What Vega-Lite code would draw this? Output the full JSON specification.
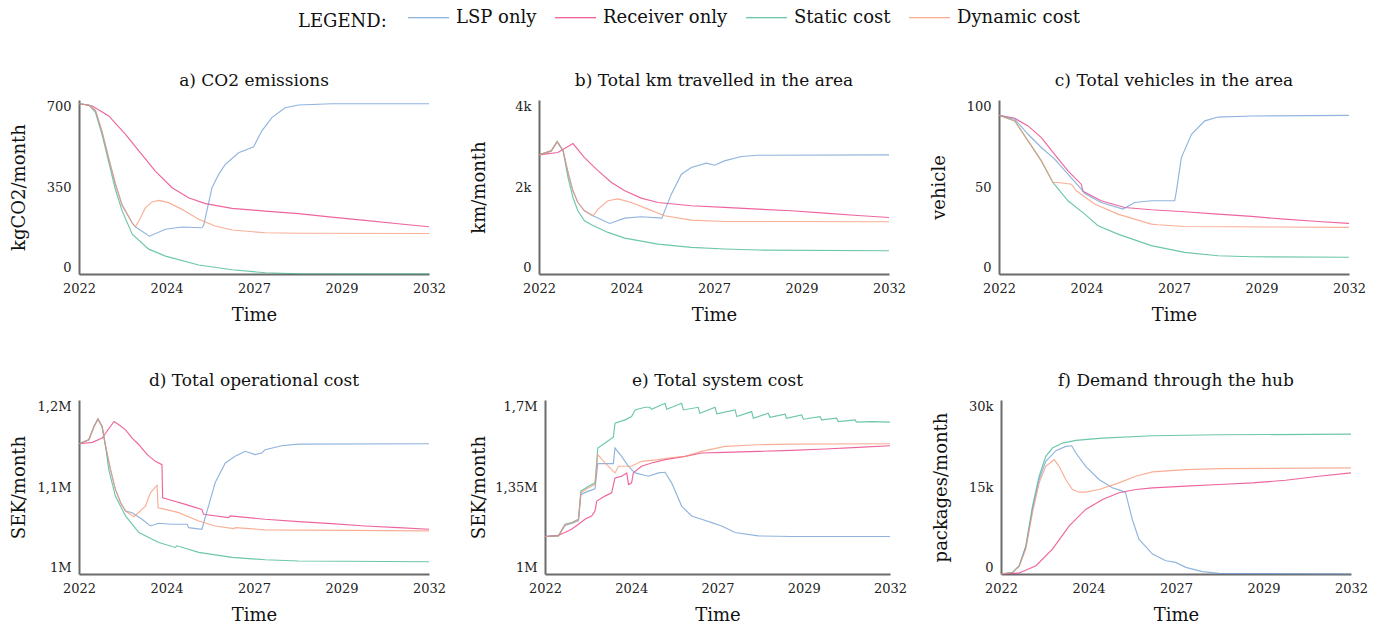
{
"$schema":"https://vega.github.io/schema/vega-lite/v6.json",
"padding":{"left":10,"top":-4,"right":5,"bottom":2},
"config":{
 "font":"DejaVu Serif",
 "view":{"stroke":null},
 "axis":{"grid":false,"ticks":false,"domainColor":"#6b6b6b","domainWidth":2,"labelFontSize":13,"labelColor":"#222","labelPadding":8,"titleFontSize":18,"titleFontWeight":"normal","titleColor":"#111","titlePadding":11},
 "title":{"fontSize":17,"fontWeight":"normal","color":"#111","offset":10},
 "line":{"strokeWidth":1.15,"opacity":0.75},
 "legend":{"orient":"none","legendX":219,"legendY":-104,"direction":"horizontal","titleOrient":"left","titleAnchor":"end","titleBaseline":"alphabetic","titleFontSize":18,"titleFontWeight":"normal","titleColor":"#111","titlePadding":20,"labelFontSize":18,"labelColor":"#111","symbolType":"stroke","symbolSize":1681,"symbolStrokeWidth":2,"labelOffset":6,"columnPadding":15}
},
"data":{"values":[
{"p":"a","s":"R","t":2022,"v":685},{"p":"a","s":"R","t":2022.38,"v":676},{"p":"a","s":"R","t":2022.85,"v":636},{"p":"a","s":"R","t":2023.33,"v":562},{"p":"a","s":"R","t":2023.71,"v":495},{"p":"a","s":"R","t":2024.18,"v":414},{"p":"a","s":"R","t":2024.66,"v":347},{"p":"a","s":"R","t":2025.13,"v":307},{"p":"a","s":"R","t":2025.61,"v":283},{"p":"a","s":"R","t":2026.37,"v":264},{"p":"a","s":"R","t":2027.32,"v":253},{"p":"a","s":"R","t":2028.27,"v":243},{"p":"a","s":"R","t":2029.22,"v":229},{"p":"a","s":"R","t":2030.17,"v":216},{"p":"a","s":"R","t":2031.12,"v":202},{"p":"a","s":"R","t":2032,"v":190},
{"p":"a","s":"S","t":2022,"v":685},{"p":"a","s":"S","t":2022.28,"v":680},{"p":"a","s":"S","t":2022.47,"v":650},{"p":"a","s":"S","t":2022.66,"v":560},{"p":"a","s":"S","t":2022.85,"v":450},{"p":"a","s":"S","t":2023.04,"v":340},{"p":"a","s":"S","t":2023.23,"v":255},{"p":"a","s":"S","t":2023.52,"v":160},{"p":"a","s":"S","t":2023.99,"v":100},{"p":"a","s":"S","t":2024.47,"v":72},{"p":"a","s":"S","t":2025.42,"v":36},{"p":"a","s":"S","t":2026.37,"v":17},{"p":"a","s":"S","t":2027.32,"v":5},{"p":"a","s":"S","t":2028.27,"v":1},{"p":"a","s":"S","t":2032,"v":0},
{"p":"a","s":"L","t":2022,"v":685},{"p":"a","s":"L","t":2022.28,"v":680},{"p":"a","s":"L","t":2022.47,"v":658},{"p":"a","s":"L","t":2022.66,"v":572},{"p":"a","s":"L","t":2022.85,"v":465},{"p":"a","s":"L","t":2023.04,"v":362},{"p":"a","s":"L","t":2023.23,"v":278},{"p":"a","s":"L","t":2023.52,"v":205},{"p":"a","s":"L","t":2023.61,"v":190},{"p":"a","s":"L","t":2024.01,"v":152},{"p":"a","s":"L","t":2024.47,"v":180},{"p":"a","s":"L","t":2024.94,"v":189},{"p":"a","s":"L","t":2025.51,"v":186},{"p":"a","s":"L","t":2025.56,"v":195},{"p":"a","s":"L","t":2025.8,"v":347},{"p":"a","s":"L","t":2025.99,"v":401},{"p":"a","s":"L","t":2026.18,"v":441},{"p":"a","s":"L","t":2026.56,"v":488},{"p":"a","s":"L","t":2026.99,"v":512},{"p":"a","s":"L","t":2027.22,"v":575},{"p":"a","s":"L","t":2027.51,"v":629},{"p":"a","s":"L","t":2027.89,"v":669},{"p":"a","s":"L","t":2028.27,"v":680},{"p":"a","s":"L","t":2029.22,"v":685},{"p":"a","s":"L","t":2032,"v":685},
{"p":"a","s":"D","t":2022,"v":685},{"p":"a","s":"D","t":2022.28,"v":680},{"p":"a","s":"D","t":2022.47,"v":658},{"p":"a","s":"D","t":2022.66,"v":572},{"p":"a","s":"D","t":2022.85,"v":465},{"p":"a","s":"D","t":2023.04,"v":362},{"p":"a","s":"D","t":2023.23,"v":278},{"p":"a","s":"D","t":2023.52,"v":205},{"p":"a","s":"D","t":2023.61,"v":190},{"p":"a","s":"D","t":2023.71,"v":213},{"p":"a","s":"D","t":2023.9,"v":267},{"p":"a","s":"D","t":2024.09,"v":290},{"p":"a","s":"D","t":2024.28,"v":296},{"p":"a","s":"D","t":2024.56,"v":287},{"p":"a","s":"D","t":2024.94,"v":260},{"p":"a","s":"D","t":2025.42,"v":220},{"p":"a","s":"D","t":2025.89,"v":193},{"p":"a","s":"D","t":2026.37,"v":177},{"p":"a","s":"D","t":2027.32,"v":166},{"p":"a","s":"D","t":2028.27,"v":164},{"p":"a","s":"D","t":2032,"v":163},

{"p":"b","s":"R","t":2022,"v":2738},{"p":"b","s":"R","t":2022.54,"v":2792},{"p":"b","s":"R","t":2022.97,"v":2998},{"p":"b","s":"R","t":2023.3,"v":2677},{"p":"b","s":"R","t":2023.69,"v":2371},{"p":"b","s":"R","t":2024.07,"v":2103},{"p":"b","s":"R","t":2024.45,"v":1912},{"p":"b","s":"R","t":2024.92,"v":1744},{"p":"b","s":"R","t":2025.4,"v":1644},{"p":"b","s":"R","t":2026.35,"v":1568},{"p":"b","s":"R","t":2027.3,"v":1530},{"p":"b","s":"R","t":2028.26,"v":1491},{"p":"b","s":"R","t":2029.21,"v":1453},{"p":"b","s":"R","t":2030.16,"v":1400},{"p":"b","s":"R","t":2031.11,"v":1346},{"p":"b","s":"R","t":2032,"v":1300},
{"p":"b","s":"S","t":2022,"v":2738},{"p":"b","s":"S","t":2022.35,"v":2830},{"p":"b","s":"S","t":2022.52,"v":3044},{"p":"b","s":"S","t":2022.69,"v":2830},{"p":"b","s":"S","t":2022.83,"v":2218},{"p":"b","s":"S","t":2022.97,"v":1759},{"p":"b","s":"S","t":2023.11,"v":1453},{"p":"b","s":"S","t":2023.3,"v":1224},{"p":"b","s":"S","t":2023.5,"v":1132},{"p":"b","s":"S","t":2023.97,"v":956},{"p":"b","s":"S","t":2024.45,"v":826},{"p":"b","s":"S","t":2025.4,"v":688},{"p":"b","s":"S","t":2026.35,"v":612},{"p":"b","s":"S","t":2027.3,"v":574},{"p":"b","s":"S","t":2028.26,"v":551},{"p":"b","s":"S","t":2032,"v":535},
{"p":"b","s":"L","t":2022,"v":2738},{"p":"b","s":"L","t":2022.35,"v":2830},{"p":"b","s":"L","t":2022.52,"v":3044},{"p":"b","s":"L","t":2022.69,"v":2830},{"p":"b","s":"L","t":2022.83,"v":2333},{"p":"b","s":"L","t":2022.97,"v":1912},{"p":"b","s":"L","t":2023.11,"v":1644},{"p":"b","s":"L","t":2023.3,"v":1453},{"p":"b","s":"L","t":2023.54,"v":1338},{"p":"b","s":"L","t":2024.02,"v":1162},{"p":"b","s":"L","t":2024.45,"v":1285},{"p":"b","s":"L","t":2024.92,"v":1315},{"p":"b","s":"L","t":2025.51,"v":1285},{"p":"b","s":"L","t":2025.78,"v":1836},{"p":"b","s":"L","t":2026.07,"v":2294},{"p":"b","s":"L","t":2026.35,"v":2447},{"p":"b","s":"L","t":2026.78,"v":2547},{"p":"b","s":"L","t":2027.02,"v":2501},{"p":"b","s":"L","t":2027.3,"v":2600},{"p":"b","s":"L","t":2027.78,"v":2700},{"p":"b","s":"L","t":2028.26,"v":2730},{"p":"b","s":"L","t":2032,"v":2738},
{"p":"b","s":"D","t":2022,"v":2738},{"p":"b","s":"D","t":2022.35,"v":2830},{"p":"b","s":"D","t":2022.52,"v":3044},{"p":"b","s":"D","t":2022.69,"v":2830},{"p":"b","s":"D","t":2022.83,"v":2333},{"p":"b","s":"D","t":2022.97,"v":1912},{"p":"b","s":"D","t":2023.11,"v":1644},{"p":"b","s":"D","t":2023.3,"v":1453},{"p":"b","s":"D","t":2023.54,"v":1338},{"p":"b","s":"D","t":2023.69,"v":1491},{"p":"b","s":"D","t":2023.97,"v":1683},{"p":"b","s":"D","t":2024.26,"v":1728},{"p":"b","s":"D","t":2024.64,"v":1644},{"p":"b","s":"D","t":2025.11,"v":1491},{"p":"b","s":"D","t":2025.59,"v":1338},{"p":"b","s":"D","t":2026.35,"v":1239},{"p":"b","s":"D","t":2027.3,"v":1208},{"p":"b","s":"D","t":2032,"v":1201},

{"p":"c","s":"R","t":2022,"v":91.2},{"p":"c","s":"R","t":2022.45,"v":89.5},{"p":"c","s":"R","t":2022.83,"v":85.1},{"p":"c","s":"R","t":2023.21,"v":78.4},{"p":"c","s":"R","t":2023.59,"v":68.8},{"p":"c","s":"R","t":2023.97,"v":59.3},{"p":"c","s":"R","t":2024.35,"v":51.6},{"p":"c","s":"R","t":2024.4,"v":47.5},{"p":"c","s":"R","t":2024.92,"v":42.1},{"p":"c","s":"R","t":2025.59,"v":38.2},{"p":"c","s":"R","t":2026.35,"v":36.9},{"p":"c","s":"R","t":2027.3,"v":35.8},{"p":"c","s":"R","t":2028.26,"v":34.4},{"p":"c","s":"R","t":2029.21,"v":33.1},{"p":"c","s":"R","t":2030.16,"v":31.5},{"p":"c","s":"R","t":2031.11,"v":30.2},{"p":"c","s":"R","t":2032,"v":29.1},
{"p":"c","s":"S","t":2022,"v":91.2},{"p":"c","s":"S","t":2022.45,"v":88.0},{"p":"c","s":"S","t":2022.83,"v":76.5},{"p":"c","s":"S","t":2023.21,"v":65.0},{"p":"c","s":"S","t":2023.54,"v":52.6},{"p":"c","s":"S","t":2023.97,"v":42.1},{"p":"c","s":"S","t":2024.45,"v":34.4},{"p":"c","s":"S","t":2024.83,"v":27.7},{"p":"c","s":"S","t":2025.4,"v":22.9},{"p":"c","s":"S","t":2026.35,"v":16.3},{"p":"c","s":"S","t":2027.3,"v":12.4},{"p":"c","s":"S","t":2028.26,"v":10.5},{"p":"c","s":"S","t":2029.21,"v":9.9},{"p":"c","s":"S","t":2032,"v":9.6},
{"p":"c","s":"L","t":2022,"v":91.2},{"p":"c","s":"L","t":2022.45,"v":88.9},{"p":"c","s":"L","t":2022.83,"v":80.3},{"p":"c","s":"L","t":2023.21,"v":72.7},{"p":"c","s":"L","t":2023.59,"v":66.0},{"p":"c","s":"L","t":2023.97,"v":57.4},{"p":"c","s":"L","t":2024.35,"v":48.8},{"p":"c","s":"L","t":2024.45,"v":46.3},{"p":"c","s":"L","t":2024.92,"v":41.1},{"p":"c","s":"L","t":2025.54,"v":37.3},{"p":"c","s":"L","t":2025.88,"v":41.1},{"p":"c","s":"L","t":2026.35,"v":42.1},{"p":"c","s":"L","t":2027.02,"v":42.1},{"p":"c","s":"L","t":2027.07,"v":47.8},{"p":"c","s":"L","t":2027.21,"v":66.9},{"p":"c","s":"L","t":2027.5,"v":80.3},{"p":"c","s":"L","t":2027.88,"v":88.0},{"p":"c","s":"L","t":2028.26,"v":90.2},{"p":"c","s":"L","t":2029.21,"v":90.8},{"p":"c","s":"L","t":2032,"v":91.2},
{"p":"c","s":"D","t":2022,"v":91.2},{"p":"c","s":"D","t":2022.45,"v":88.0},{"p":"c","s":"D","t":2022.83,"v":76.5},{"p":"c","s":"D","t":2023.21,"v":65.0},{"p":"c","s":"D","t":2023.54,"v":52.6},{"p":"c","s":"D","t":2023.69,"v":52.6},{"p":"c","s":"D","t":2024.07,"v":51.6},{"p":"c","s":"D","t":2024.21,"v":47.8},{"p":"c","s":"D","t":2024.73,"v":40.2},{"p":"c","s":"D","t":2025.4,"v":34.4},{"p":"c","s":"D","t":2026.35,"v":28.7},{"p":"c","s":"D","t":2026.54,"v":28.3},{"p":"c","s":"D","t":2027.3,"v":27.3},{"p":"c","s":"D","t":2032,"v":26.8},

{"p":"d","s":"R","t":2022,"v":1149700},{"p":"d","s":"R","t":2022.38,"v":1151300},{"p":"d","s":"R","t":2022.66,"v":1156200},{"p":"d","s":"R","t":2023.0,"v":1175300},{"p":"d","s":"R","t":2023.14,"v":1171500},{"p":"d","s":"R","t":2023.33,"v":1165700},{"p":"d","s":"R","t":2023.52,"v":1156200},{"p":"d","s":"R","t":2023.71,"v":1148600},{"p":"d","s":"R","t":2023.95,"v":1137200},{"p":"d","s":"R","t":2024.18,"v":1129500},{"p":"d","s":"R","t":2024.37,"v":1125700},{"p":"d","s":"R","t":2024.39,"v":1087600},{"p":"d","s":"R","t":2024.56,"v":1085700},{"p":"d","s":"R","t":2025.04,"v":1080000},{"p":"d","s":"R","t":2025.51,"v":1074300},{"p":"d","s":"R","t":2025.56,"v":1068600},{"p":"d","s":"R","t":2026.27,"v":1064800},{"p":"d","s":"R","t":2026.32,"v":1066700},{"p":"d","s":"R","t":2027.32,"v":1062900},{"p":"d","s":"R","t":2028.27,"v":1060200},{"p":"d","s":"R","t":2029.22,"v":1057900},{"p":"d","s":"R","t":2030.17,"v":1055200},{"p":"d","s":"R","t":2031.12,"v":1053300},{"p":"d","s":"R","t":2032,"v":1051400},
{"p":"d","s":"S","t":2022,"v":1149700},{"p":"d","s":"S","t":2022.28,"v":1154300},{"p":"d","s":"S","t":2022.43,"v":1169500},{"p":"d","s":"S","t":2022.54,"v":1178300},{"p":"d","s":"S","t":2022.66,"v":1169500},{"p":"d","s":"S","t":2022.76,"v":1146700},{"p":"d","s":"S","t":2022.85,"v":1120000},{"p":"d","s":"S","t":2023.04,"v":1089500},{"p":"d","s":"S","t":2023.33,"v":1066700},{"p":"d","s":"S","t":2023.71,"v":1047600},{"p":"d","s":"S","t":2024.28,"v":1036200},{"p":"d","s":"S","t":2024.75,"v":1030500},{"p":"d","s":"S","t":2024.8,"v":1032400},{"p":"d","s":"S","t":2025.42,"v":1024800},{"p":"d","s":"S","t":2026.37,"v":1019100},{"p":"d","s":"S","t":2027.32,"v":1016400},{"p":"d","s":"S","t":2028.27,"v":1014900},{"p":"d","s":"S","t":2032,"v":1014100},
{"p":"d","s":"L","t":2022,"v":1149700},{"p":"d","s":"L","t":2022.28,"v":1154300},{"p":"d","s":"L","t":2022.43,"v":1169500},{"p":"d","s":"L","t":2022.54,"v":1178300},{"p":"d","s":"L","t":2022.66,"v":1169500},{"p":"d","s":"L","t":2022.76,"v":1146700},{"p":"d","s":"L","t":2022.9,"v":1120000},{"p":"d","s":"L","t":2023.04,"v":1097200},{"p":"d","s":"L","t":2023.19,"v":1081900},{"p":"d","s":"L","t":2023.33,"v":1072400},{"p":"d","s":"L","t":2023.52,"v":1070500},{"p":"d","s":"L","t":2023.8,"v":1062900},{"p":"d","s":"L","t":2024.04,"v":1055200},{"p":"d","s":"L","t":2024.28,"v":1058300},{"p":"d","s":"L","t":2024.66,"v":1057200},{"p":"d","s":"L","t":2025.09,"v":1057200},{"p":"d","s":"L","t":2025.13,"v":1053300},{"p":"d","s":"L","t":2025.51,"v":1051400},{"p":"d","s":"L","t":2025.7,"v":1078100},{"p":"d","s":"L","t":2025.89,"v":1104800},{"p":"d","s":"L","t":2026.18,"v":1127600},{"p":"d","s":"L","t":2026.46,"v":1135300},{"p":"d","s":"L","t":2026.75,"v":1141000},{"p":"d","s":"L","t":2027.03,"v":1137200},{"p":"d","s":"L","t":2027.22,"v":1139100},{"p":"d","s":"L","t":2027.32,"v":1142900},{"p":"d","s":"L","t":2027.79,"v":1147400},{"p":"d","s":"L","t":2028.27,"v":1149300},{"p":"d","s":"L","t":2032,"v":1149700},
{"p":"d","s":"D","t":2022,"v":1149700},{"p":"d","s":"D","t":2022.28,"v":1154300},{"p":"d","s":"D","t":2022.43,"v":1169500},{"p":"d","s":"D","t":2022.54,"v":1178300},{"p":"d","s":"D","t":2022.66,"v":1169500},{"p":"d","s":"D","t":2022.76,"v":1146700},{"p":"d","s":"D","t":2022.9,"v":1120000},{"p":"d","s":"D","t":2023.04,"v":1097200},{"p":"d","s":"D","t":2023.19,"v":1081900},{"p":"d","s":"D","t":2023.33,"v":1072400},{"p":"d","s":"D","t":2023.57,"v":1065900},{"p":"d","s":"D","t":2023.9,"v":1078100},{"p":"d","s":"D","t":2024.04,"v":1093300},{"p":"d","s":"D","t":2024.23,"v":1102100},{"p":"d","s":"D","t":2024.26,"v":1076200},{"p":"d","s":"D","t":2024.47,"v":1074300},{"p":"d","s":"D","t":2024.85,"v":1070500},{"p":"d","s":"D","t":2025.42,"v":1061000},{"p":"d","s":"D","t":2025.89,"v":1055200},{"p":"d","s":"D","t":2026.42,"v":1052200},{"p":"d","s":"D","t":2026.47,"v":1053300},{"p":"d","s":"D","t":2027.32,"v":1050800},{"p":"d","s":"D","t":2032,"v":1049500},

{"p":"e","s":"R","t":2022,"v":1150700},{"p":"e","s":"R","t":2022.39,"v":1156000},{"p":"e","s":"R","t":2022.58,"v":1166700},{"p":"e","s":"R","t":2022.77,"v":1180000},{"p":"e","s":"R","t":2022.97,"v":1200000},{"p":"e","s":"R","t":2023.16,"v":1220000},{"p":"e","s":"R","t":2023.35,"v":1233300},{"p":"e","s":"R","t":2023.45,"v":1253300},{"p":"e","s":"R","t":2023.5,"v":1293300},{"p":"e","s":"R","t":2023.74,"v":1313300},{"p":"e","s":"R","t":2023.93,"v":1326700},{"p":"e","s":"R","t":2024.03,"v":1386700},{"p":"e","s":"R","t":2024.22,"v":1393300},{"p":"e","s":"R","t":2024.37,"v":1406700},{"p":"e","s":"R","t":2024.42,"v":1360000},{"p":"e","s":"R","t":2024.51,"v":1366700},{"p":"e","s":"R","t":2024.56,"v":1406700},{"p":"e","s":"R","t":2024.8,"v":1433300},{"p":"e","s":"R","t":2025.09,"v":1446700},{"p":"e","s":"R","t":2025.48,"v":1460000},{"p":"e","s":"R","t":2026.06,"v":1473300},{"p":"e","s":"R","t":2026.54,"v":1486700},{"p":"e","s":"R","t":2027.22,"v":1489300},{"p":"e","s":"R","t":2028.18,"v":1493300},{"p":"e","s":"R","t":2029.15,"v":1497300},{"p":"e","s":"R","t":2030.12,"v":1502700},{"p":"e","s":"R","t":2031.08,"v":1509300},{"p":"e","s":"R","t":2032,"v":1516000},
{"p":"e","s":"S","t":2022,"v":1150700},{"p":"e","s":"S","t":2022.39,"v":1153300},{"p":"e","s":"S","t":2022.58,"v":1200000},{"p":"e","s":"S","t":2022.77,"v":1206700},{"p":"e","s":"S","t":2022.97,"v":1220000},{"p":"e","s":"S","t":2023.04,"v":1333300},{"p":"e","s":"S","t":2023.26,"v":1353300},{"p":"e","s":"S","t":2023.45,"v":1366700},{"p":"e","s":"S","t":2023.53,"v":1506700},{"p":"e","s":"S","t":2023.74,"v":1526700},{"p":"e","s":"S","t":2023.98,"v":1550700},{"p":"e","s":"S","t":2024.03,"v":1606700},{"p":"e","s":"S","t":2024.32,"v":1620000},{"p":"e","s":"S","t":2024.51,"v":1633300},{"p":"e","s":"S","t":2024.61,"v":1660000},{"p":"e","s":"S","t":2024.9,"v":1670700},{"p":"e","s":"S","t":2025.04,"v":1670700},{"p":"e","s":"S","t":2025.09,"v":1662700},{"p":"e","s":"S","t":2025.48,"v":1686700},{"p":"e","s":"S","t":2025.53,"v":1662700},{"p":"e","s":"S","t":2025.96,"v":1686700},{"p":"e","s":"S","t":2026.01,"v":1660000},{"p":"e","s":"S","t":2026.44,"v":1670700},{"p":"e","s":"S","t":2026.49,"v":1646700},{"p":"e","s":"S","t":2026.93,"v":1670700},{"p":"e","s":"S","t":2026.98,"v":1644000},{"p":"e","s":"S","t":2027.51,"v":1660000},{"p":"e","s":"S","t":2027.56,"v":1633300},{"p":"e","s":"S","t":2027.99,"v":1653300},{"p":"e","s":"S","t":2028.04,"v":1626700},{"p":"e","s":"S","t":2028.47,"v":1646700},{"p":"e","s":"S","t":2028.52,"v":1630700},{"p":"e","s":"S","t":2028.96,"v":1642700},{"p":"e","s":"S","t":2029.0,"v":1626700},{"p":"e","s":"S","t":2029.44,"v":1640000},{"p":"e","s":"S","t":2029.49,"v":1622700},{"p":"e","s":"S","t":2029.97,"v":1633300},{"p":"e","s":"S","t":2030.02,"v":1620000},{"p":"e","s":"S","t":2030.45,"v":1626700},{"p":"e","s":"S","t":2030.5,"v":1613300},{"p":"e","s":"S","t":2030.99,"v":1620000},{"p":"e","s":"S","t":2031.03,"v":1610700},{"p":"e","s":"S","t":2031.47,"v":1613300},{"p":"e","s":"S","t":2032,"v":1610700},
{"p":"e","s":"L","t":2022,"v":1150700},{"p":"e","s":"L","t":2022.39,"v":1153300},{"p":"e","s":"L","t":2022.58,"v":1195000},{"p":"e","s":"L","t":2022.77,"v":1203000},{"p":"e","s":"L","t":2022.97,"v":1215000},{"p":"e","s":"L","t":2023.04,"v":1320000},{"p":"e","s":"L","t":2023.26,"v":1333300},{"p":"e","s":"L","t":2023.45,"v":1342700},{"p":"e","s":"L","t":2023.53,"v":1444000},{"p":"e","s":"L","t":2023.98,"v":1444000},{"p":"e","s":"L","t":2024.03,"v":1506700},{"p":"e","s":"L","t":2024.22,"v":1473300},{"p":"e","s":"L","t":2024.42,"v":1433300},{"p":"e","s":"L","t":2024.61,"v":1406700},{"p":"e","s":"L","t":2025.0,"v":1393300},{"p":"e","s":"L","t":2025.29,"v":1406700},{"p":"e","s":"L","t":2025.48,"v":1409300},{"p":"e","s":"L","t":2025.67,"v":1366700},{"p":"e","s":"L","t":2025.96,"v":1273300},{"p":"e","s":"L","t":2026.25,"v":1233300},{"p":"e","s":"L","t":2026.54,"v":1220000},{"p":"e","s":"L","t":2026.83,"v":1206700},{"p":"e","s":"L","t":2027.12,"v":1193300},{"p":"e","s":"L","t":2027.51,"v":1166700},{"p":"e","s":"L","t":2028.18,"v":1153300},{"p":"e","s":"L","t":2029.15,"v":1150700},{"p":"e","s":"L","t":2032,"v":1150700},
{"p":"e","s":"D","t":2022,"v":1150700},{"p":"e","s":"D","t":2022.39,"v":1153300},{"p":"e","s":"D","t":2022.58,"v":1198000},{"p":"e","s":"D","t":2022.77,"v":1205000},{"p":"e","s":"D","t":2022.97,"v":1218000},{"p":"e","s":"D","t":2023.04,"v":1326700},{"p":"e","s":"D","t":2023.26,"v":1346700},{"p":"e","s":"D","t":2023.45,"v":1360000},{"p":"e","s":"D","t":2023.53,"v":1480000},{"p":"e","s":"D","t":2023.74,"v":1446700},{"p":"e","s":"D","t":2023.93,"v":1420000},{"p":"e","s":"D","t":2024.03,"v":1406700},{"p":"e","s":"D","t":2024.13,"v":1433300},{"p":"e","s":"D","t":2024.51,"v":1433300},{"p":"e","s":"D","t":2024.8,"v":1453300},{"p":"e","s":"D","t":2025.29,"v":1460000},{"p":"e","s":"D","t":2025.57,"v":1466700},{"p":"e","s":"D","t":2026.06,"v":1473300},{"p":"e","s":"D","t":2026.54,"v":1493300},{"p":"e","s":"D","t":2027.22,"v":1513300},{"p":"e","s":"D","t":2028.18,"v":1520000},{"p":"e","s":"D","t":2029.15,"v":1522700},{"p":"e","s":"D","t":2032,"v":1524000},

{"p":"f","s":"R","t":2022,"v":0},{"p":"f","s":"R","t":2022.52,"v":170},{"p":"f","s":"R","t":2023.0,"v":1430},{"p":"f","s":"R","t":2023.47,"v":4290},{"p":"f","s":"R","t":2023.95,"v":8290},{"p":"f","s":"R","t":2024.42,"v":11140},{"p":"f","s":"R","t":2024.9,"v":12860},{"p":"f","s":"R","t":2025.37,"v":14000},{"p":"f","s":"R","t":2025.85,"v":14570},{"p":"f","s":"R","t":2026.33,"v":14860},{"p":"f","s":"R","t":2027.28,"v":15140},{"p":"f","s":"R","t":2028.23,"v":15430},{"p":"f","s":"R","t":2029.18,"v":15710},{"p":"f","s":"R","t":2030.13,"v":16170},{"p":"f","s":"R","t":2031.08,"v":16860},{"p":"f","s":"R","t":2032,"v":17430},
{"p":"f","s":"S","t":2022,"v":0},{"p":"f","s":"S","t":2022.33,"v":290},{"p":"f","s":"S","t":2022.52,"v":1430},{"p":"f","s":"S","t":2022.71,"v":4860},{"p":"f","s":"S","t":2022.9,"v":11710},{"p":"f","s":"S","t":2023.09,"v":16860},{"p":"f","s":"S","t":2023.28,"v":20290},{"p":"f","s":"S","t":2023.47,"v":21710},{"p":"f","s":"S","t":2023.76,"v":22570},{"p":"f","s":"S","t":2024.14,"v":23030},{"p":"f","s":"S","t":2024.9,"v":23430},{"p":"f","s":"S","t":2026.33,"v":23830},{"p":"f","s":"S","t":2028.23,"v":24000},{"p":"f","s":"S","t":2032,"v":24110},
{"p":"f","s":"L","t":2022,"v":0},{"p":"f","s":"L","t":2022.33,"v":250},{"p":"f","s":"L","t":2022.52,"v":1350},{"p":"f","s":"L","t":2022.71,"v":4700},{"p":"f","s":"L","t":2022.9,"v":11140},{"p":"f","s":"L","t":2023.09,"v":16290},{"p":"f","s":"L","t":2023.28,"v":19430},{"p":"f","s":"L","t":2023.57,"v":21260},{"p":"f","s":"L","t":2023.85,"v":22000},{"p":"f","s":"L","t":2024.02,"v":22110},{"p":"f","s":"L","t":2024.14,"v":20860},{"p":"f","s":"L","t":2024.42,"v":18570},{"p":"f","s":"L","t":2024.8,"v":16290},{"p":"f","s":"L","t":2025.18,"v":14860},{"p":"f","s":"L","t":2025.47,"v":14290},{"p":"f","s":"L","t":2025.56,"v":14000},{"p":"f","s":"L","t":2025.75,"v":9430},{"p":"f","s":"L","t":2025.94,"v":6000},{"p":"f","s":"L","t":2026.33,"v":3430},{"p":"f","s":"L","t":2026.71,"v":2290},{"p":"f","s":"L","t":2026.99,"v":2000},{"p":"f","s":"L","t":2027.28,"v":1140},{"p":"f","s":"L","t":2027.75,"v":400},{"p":"f","s":"L","t":2028.23,"v":110},{"p":"f","s":"L","t":2032,"v":0},
{"p":"f","s":"D","t":2022,"v":0},{"p":"f","s":"D","t":2022.33,"v":250},{"p":"f","s":"D","t":2022.52,"v":1350},{"p":"f","s":"D","t":2022.71,"v":4290},{"p":"f","s":"D","t":2022.9,"v":10570},{"p":"f","s":"D","t":2023.09,"v":15710},{"p":"f","s":"D","t":2023.28,"v":18570},{"p":"f","s":"D","t":2023.52,"v":19710},{"p":"f","s":"D","t":2023.66,"v":18570},{"p":"f","s":"D","t":2023.85,"v":16290},{"p":"f","s":"D","t":2024.04,"v":14570},{"p":"f","s":"D","t":2024.23,"v":14110},{"p":"f","s":"D","t":2024.42,"v":14110},{"p":"f","s":"D","t":2024.8,"v":14570},{"p":"f","s":"D","t":2025.37,"v":15710},{"p":"f","s":"D","t":2025.85,"v":16860},{"p":"f","s":"D","t":2026.33,"v":17600},{"p":"f","s":"D","t":2027.28,"v":18000},{"p":"f","s":"D","t":2028.23,"v":18170},{"p":"f","s":"D","t":2032,"v":18290}
]},
"spacing":48,
"vconcat":[
 {"spacing":24,"hconcat":[
  {"width":350,"height":174,"title":"a) CO2 emissions","transform":[{"filter":"datum.p=='a'"}],"mark":"line",
   "encoding":{"x":{"field":"t","type":"quantitative","scale":{"domain":[2022,2032],"nice":false,"zero":false},"axis":{"values":[2022,2024.5,2027,2029.5,2032],"labelExpr":"''+floor(datum.value)","labelFlush":false,"title":"Time"}},
    "y":{"field":"v","type":"quantitative","scale":{"domain":[0,700],"nice":false},"axis":{"values":[0,350,700],"labelFlush":true,"labelExpr":"replace(format(datum.value,'~s'),'.',',')","title":"kgCO2/month","titleX":-51}},
    "color":{"field":"s","type":"nominal","scale":{"domain":["L","R","S","D"],"range":["#6b9bd2","#e8317d","#3cb48e","#f79474"]},"legend":{"title":"LEGEND:","titleAnchor":"end","titleBaseline":"alphabetic","labelExpr":"{'L':'LSP only','R':'Receiver only','S':'Static cost','D':'Dynamic cost'}[datum.label]"}}}},
  {"width":350,"height":174,"title":"b) Total km travelled in the area","transform":[{"filter":"datum.p=='b'"}],"mark":"line",
   "encoding":{"x":{"field":"t","type":"quantitative","scale":{"domain":[2022,2032],"nice":false,"zero":false},"axis":{"values":[2022,2024.5,2027,2029.5,2032],"labelExpr":"''+floor(datum.value)","labelFlush":false,"title":"Time"}},
    "y":{"field":"v","type":"quantitative","scale":{"domain":[0,4000],"nice":false},"axis":{"values":[0,2000,4000],"labelFlush":true,"labelExpr":"replace(format(datum.value,'~s'),'.',',')","title":"km/month","titleX":-51}},
    "color":{"field":"s","type":"nominal"}}},
  {"width":350,"height":174,"title":"c) Total vehicles in the area","transform":[{"filter":"datum.p=='c'"}],"mark":"line",
   "encoding":{"x":{"field":"t","type":"quantitative","scale":{"domain":[2022,2032],"nice":false,"zero":false},"axis":{"values":[2022,2024.5,2027,2029.5,2032],"labelExpr":"''+floor(datum.value)","labelFlush":false,"title":"Time"}},
    "y":{"field":"v","type":"quantitative","scale":{"domain":[0,100],"nice":false},"axis":{"values":[0,50,100],"labelFlush":true,"labelExpr":"replace(format(datum.value,'~s'),'.',',')","title":"vehicle","titleX":-51}},
    "color":{"field":"s","type":"nominal"}}}
 ]},
 {"spacing":24,"hconcat":[
  {"width":350,"height":174,"title":"d) Total operational cost","transform":[{"filter":"datum.p=='d'"}],"mark":"line",
   "encoding":{"x":{"field":"t","type":"quantitative","scale":{"domain":[2022,2032],"nice":false,"zero":false},"axis":{"values":[2022,2024.5,2027,2029.5,2032],"labelExpr":"''+floor(datum.value)","labelFlush":false,"title":"Time"}},
    "y":{"field":"v","type":"quantitative","scale":{"domain":[1000000,1200000],"nice":false,"zero":false},"axis":{"values":[1000000,1100000,1200000],"labelFlush":true,"labelExpr":"replace(format(datum.value,'~s'),'.',',')","title":"SEK/month","titleX":-51}},
    "color":{"field":"s","type":"nominal"}}},
  {"width":345,"height":174,"title":"e) Total system cost","transform":[{"filter":"datum.p=='e'"}],"mark":"line",
   "encoding":{"x":{"field":"t","type":"quantitative","scale":{"domain":[2022,2032],"nice":false,"zero":false},"axis":{"values":[2022,2024.5,2027,2029.5,2032],"labelExpr":"''+floor(datum.value)","labelFlush":false,"title":"Time"}},
    "y":{"field":"v","type":"quantitative","scale":{"domain":[1000000,1700000],"nice":false,"zero":false},"axis":{"values":[1000000,1350000,1700000],"labelFlush":true,"labelExpr":"replace(format(datum.value,'~s'),'.',',')","title":"SEK/month","titleX":-57}},
    "color":{"field":"s","type":"nominal"}}},
  {"width":350,"height":174,"title":"f) Demand through the hub","transform":[{"filter":"datum.p=='f'"}],"mark":"line",
   "encoding":{"x":{"field":"t","type":"quantitative","scale":{"domain":[2022,2032],"nice":false,"zero":false},"axis":{"values":[2022,2024.5,2027,2029.5,2032],"labelExpr":"''+floor(datum.value)","labelFlush":false,"title":"Time"}},
    "y":{"field":"v","type":"quantitative","scale":{"domain":[0,30000],"nice":false},"axis":{"values":[0,15000,30000],"labelFlush":true,"labelExpr":"replace(format(datum.value,'~s'),'.',',')","title":"packages/month","titleX":-51}},
    "color":{"field":"s","type":"nominal"}}}
 ]}
]
}
